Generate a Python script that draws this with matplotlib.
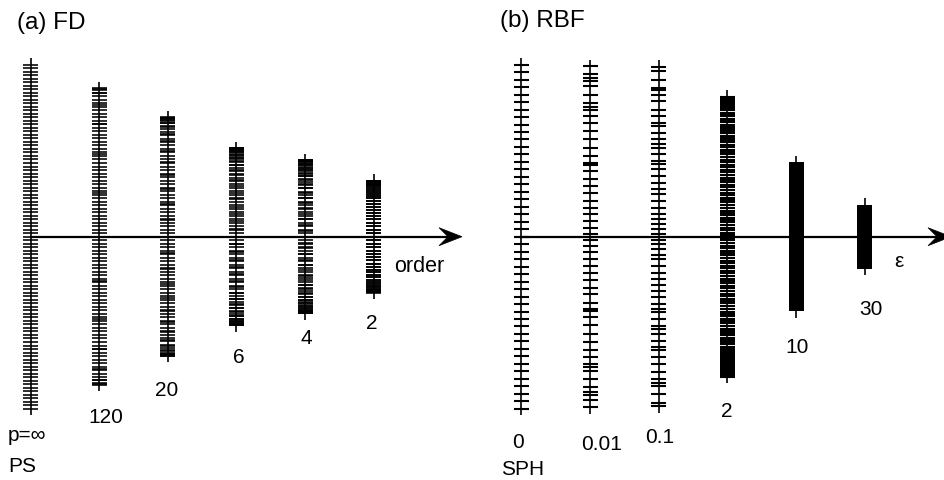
import math
import numpy as np
import matplotlib
matplotlib.use('Agg')
import matplotlib.pyplot as plt
from matplotlib.patches import Polygon
from matplotlib.lines import Line2D

W, H = 945, 481
plt.rcParams['font.family'] = ['Liberation Sans', 'DejaVu Sans']

# ---- data ----
# (a) finite differences: spectra of the periodic FD first-derivative matrix
fd_orders = [np.inf, 120, 20, 6, 4, 2]
fd_labels = ['p=\u221e', '120', '20', '6', '4', '2']
fd_grid_n = 100

# (b) RBF: upper half of each spectrum (imaginary parts, mirrored below the axis)
rbf_labels = ['0', '0.01', '0.1', '2', '10', '30']
rbf_eig_0 = [0, 1, 2, 3, 4, 5, 6, 7, 8, 9, 10, 11, 12, 13, 14, 15, 16, 17, 18,
             19, 20, 21, 22, 23]
rbf_eig_001 = [0.4, 1.2, 2.1, 3.0, 3.9, 4.8, 5.8, 6.8, 7.7, 8.8, 9.6, 9.9, 10.8,
               11.8, 13.0, 14.1, 15.2, 16.1, 17.0, 17.4, 17.9, 19.0, 20.1, 20.8,
               21.2, 21.8, 22.8]
rbf_eig_01 = [0.4, 1.0, 1.7, 2.4, 3.0, 3.9, 4.8, 5.7, 6.4, 7.2, 8.1, 9.0, 9.7,
              10.1, 11.0, 11.9, 12.4, 13.0, 13.9, 14.8, 15.2, 16.1, 17.0, 18.1,
              19.0, 19.6, 19.9, 21.0, 22.2, 22.7]
rbf_eig_2 = [0.2, 0.5, 0.9, 1.2, 1.5, 1.9, 2.2, 2.5, 2.9, 3.2, 3.5, 3.9, 4.2, 4.6,
             4.9, 5.2, 5.6, 5.9, 6.2, 6.6, 6.9, 7.3, 7.6, 7.9, 8.3, 8.6, 8.9, 9.3,
             9.6, 10.0, 10.3, 10.6, 11.0, 11.3, 11.6, 12.0, 12.3, 12.6, 12.9,
             13.2, 13.5, 13.8, 14.1, 14.4, 14.7, 15.0, 15.3, 15.6, 15.8, 16.1,
             16.4, 16.6, 16.9, 17.1, 17.4, 17.6, 17.8, 18.0, 18.2, 18.4, 18.6,
             18.7]
rbf_block_10 = 9.95   # eigenvalues fill |Im| <= this
rbf_block_30 = 4.3


def fd_spectrum(order, n):
    k = np.arange(-(n // 2 - 1), n // 2)
    theta = 2 * np.pi * k / n
    if np.isinf(order):
        kk = theta
    else:
        m = order // 2
        kk = np.zeros_like(theta)
        for j in range(1, m + 1):
            c = (-1) ** (j + 1) * math.comb(2 * m, m - j) / (j * math.comb(2 * m, m))
            kk += 2 * c * np.sin(j * theta)
    return kk * n / (2 * np.pi)


def fx(x):
    return x / W


def fy(y):
    return 1 - y / H


fig = plt.figure(figsize=(W / 100, H / 100), dpi=100)

axis_y = 237.7
ext_px = 6.5
tick_half_px = 7.5

# ---- panel (a) ----
x0a, dxa, sa = 30.7, 68.6, 3.51
axA = fig.add_axes([0, 0, 0.5, 1])
axA.set_xlim((0 - x0a) / dxa, (472.5 - x0a) / dxa)
axA.set_ylim(-(H - axis_y) / sa, axis_y / sa)
axA.axis('off')
hw = tick_half_px / dxa
for i, p in enumerate(fd_orders):
    ev = fd_spectrum(p, fd_grid_n)
    top = np.abs(ev).max() + ext_px / sa
    axA.vlines(i, -top, top, color='black', lw=1.2)
    axA.hlines(ev, i - hw, i + hw, color='black', lw=1.15)

# ---- panel (b) ----
x0b, dxb, sb = 521.3, 68.7, 7.48
axB = fig.add_axes([0.5, 0, 0.5, 1])
axB.set_xlim((472.5 - x0b) / dxb, (945 - x0b) / dxb)
axB.set_ylim(-(H - axis_y) / sb, axis_y / sb)
axB.axis('off')
hwb = tick_half_px / dxb
for i, eig in enumerate([rbf_eig_0, rbf_eig_001, rbf_eig_01, rbf_eig_2]):
    ev = np.concatenate([eig, -np.asarray(eig)])
    top = np.abs(ev).max() + ext_px / sb
    axB.vlines(i, -top, top, color='black', lw=1.2)
    axB.hlines(ev, i - hwb, i + hwb, color='black', lw=1.5)
for i, blk in [(4, rbf_block_10), (5, rbf_block_30)]:
    top = blk + ext_px / sb
    axB.vlines(i, -top, top, color='black', lw=1.2)
    axB.bar(i, 2 * blk, bottom=-blk, width=2 * hwb, color='black')

# ---- axes arrows ----
def arrow(x_start, x_tip):
    L, half, notch = 23, 9, 9
    fig.add_artist(Line2D([fx(x_start), fx(x_tip - L + notch)], [fy(axis_y)] * 2,
                          color='black', lw=1.6))
    pts = [(x_tip, axis_y), (x_tip - L, axis_y - half),
           (x_tip - L + notch, axis_y), (x_tip - L, axis_y + half)]
    fig.add_artist(Polygon([(fx(a), fy(b)) for a, b in pts], closed=True,
                           facecolor='black', edgecolor='black', lw=0.5))

arrow(x0a, 462)
arrow(x0b, 951)

# ---- text ----
fs = 15
fs_title = 17.5
fig.text(fx(17), fy(29.3), '(a) FD', fontsize=fs_title, ha='left', va='baseline')
fig.text(fx(500), fy(26.7), '(b) RBF', fontsize=fs_title, ha='left', va='baseline')
fig.text(fx(394), fy(271.7), 'order', fontsize=fs + 0.5, ha='left', va='baseline')
fig.text(fx(899), fy(267), '\u03b5', fontsize=fs, ha='center', va='baseline')

fd_label_pos = [(8, 441.5), (106, 423), (167, 396), (239, 363), (306, 344), (372, 329)]
for lab, (x, y) in zip(fd_labels, fd_label_pos):
    fig.text(fx(x), fy(y), lab, fontsize=fs, ha='left' if lab.startswith('p') else 'center',
             va='baseline')
fig.text(fx(8), fy(471.7), 'PS', fontsize=fs, ha='left', va='baseline')

rbf_label_pos = [(518.5, 448), (602, 450), (660, 443), (727, 417), (797.5, 353), (871, 315)]
for lab, (x, y) in zip(rbf_labels, rbf_label_pos):
    fig.text(fx(x), fy(y), lab, fontsize=fs, ha='center', va='baseline')
fig.text(fx(523), fy(475), 'SPH', fontsize=fs, ha='center', va='baseline')

fig.savefig('out.png', dpi=100)
